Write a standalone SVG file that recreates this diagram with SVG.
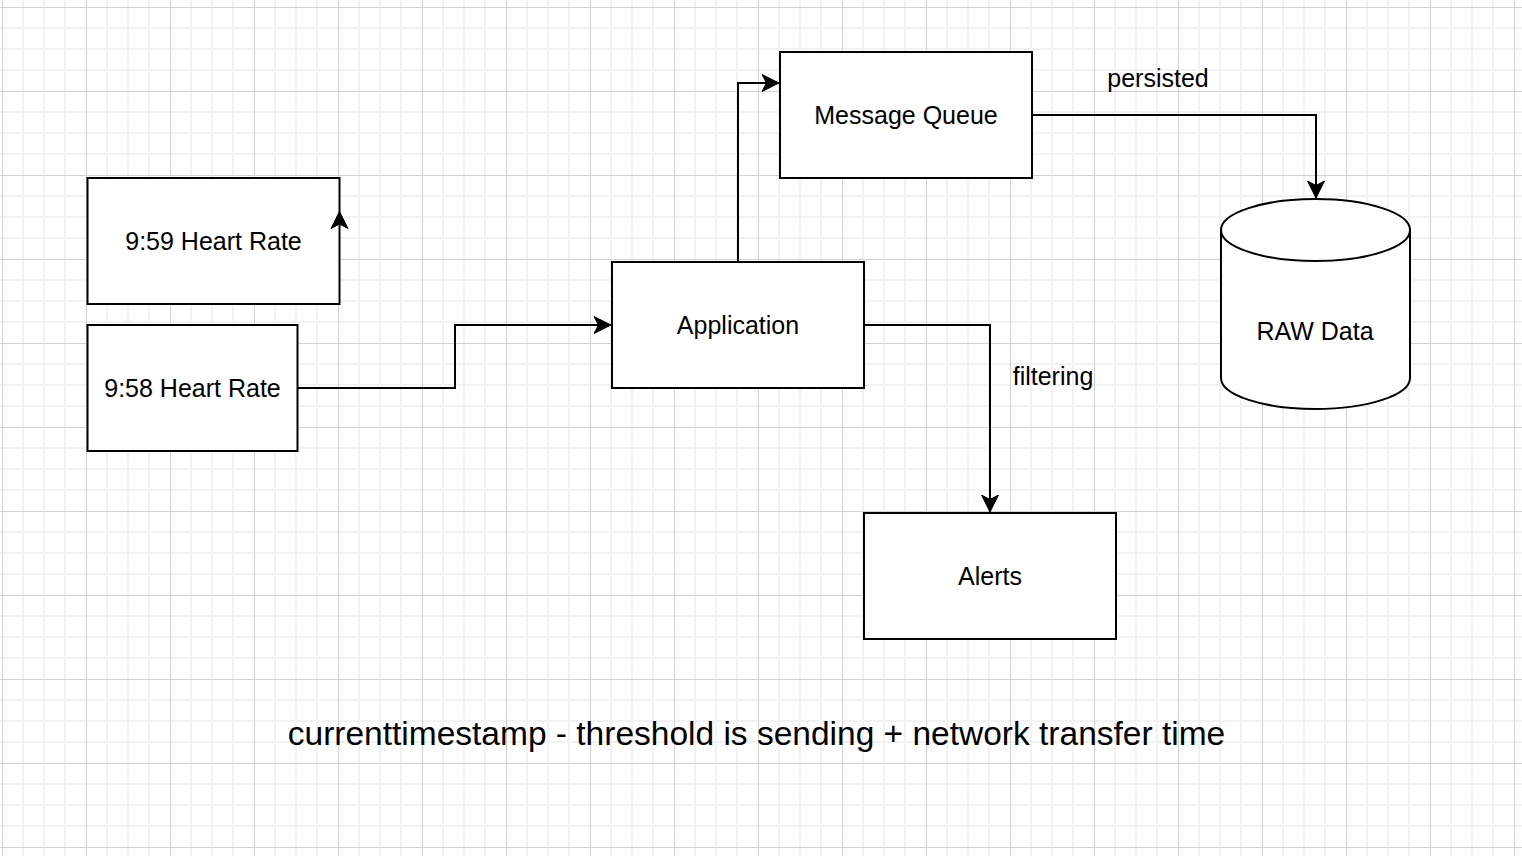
<svg xmlns="http://www.w3.org/2000/svg" width="1522" height="856" viewBox="0 0 1522 856">
  <style>
    .box { fill: #ffffff; stroke: #000000; stroke-width: 2; }
    .edge { fill: none; stroke: #000000; stroke-width: 2; }
    .lbl { font-family: "Liberation Sans", Arial, Helvetica, sans-serif; font-size: 25px; fill: #000000; text-anchor: middle; }
    .big { font-family: "Liberation Sans", Arial, Helvetica, sans-serif; font-size: 33.5px; fill: #000000; text-anchor: middle; }
  </style>
  <defs>
    <pattern id="grid" x="0" y="0" width="84" height="84" patternUnits="userSpaceOnUse">
      <path d="M23 0V84M44 0V84M65 0V84M0 28H84M0 49H84M0 70H84" stroke="#f2f2f2" stroke-width="2" fill="none"/>
      <path d="M2.5 0V84M0 7.5H84" stroke="#d2d2d2" stroke-width="1" fill="none"/>
    </pattern>
    <marker id="arrow" viewBox="0 0 18 18" refX="17" refY="9" markerWidth="18" markerHeight="18" markerUnits="userSpaceOnUse" orient="auto">
      <path d="M0 0.5L17 9L0 17.5L4.5 9Z" fill="#000000" stroke="#000000" stroke-width="1"/>
    </marker>
  </defs>

  <rect x="0" y="0" width="1522" height="856" fill="#ffffff"/>
  <rect x="0" y="0" width="1522" height="856" fill="url(#grid)"/>

  <g id="connectors">
    <path class="edge" d="M298 388H455V325H611" marker-end="url(#arrow)"/>
    <path class="edge" d="M738 262V83H779" marker-end="url(#arrow)"/>
    <path class="edge" d="M864 325H990V512" marker-end="url(#arrow)"/>
    <path class="edge" d="M1032 115H1316V198" marker-end="url(#arrow)"/>
  </g>

  <g id="node-959">
    <rect class="box" x="87.5" y="178" width="252" height="126"/>
    <text class="lbl" x="213.5" y="250">9:59 Heart Rate</text>
    <path d="M339.5 211.5L348 228.5L339.5 224L331 228.5Z" fill="#000000" stroke="#000000" stroke-width="1"/>
  </g>

  <g id="node-958">
    <rect class="box" x="87.5" y="325" width="210" height="126"/>
    <text class="lbl" x="192.5" y="397">9:58 Heart Rate</text>
  </g>

  <g id="node-application">
    <rect class="box" x="612" y="262" width="252" height="126"/>
    <text class="lbl" x="738" y="334">Application</text>
  </g>

  <g id="node-mq">
    <rect class="box" x="780" y="52" width="252" height="126"/>
    <text class="lbl" x="906" y="124">Message Queue</text>
  </g>

  <g id="node-alerts">
    <rect class="box" x="864" y="513" width="252" height="126"/>
    <text class="lbl" x="990" y="585">Alerts</text>
  </g>

  <g id="node-raw">
    <path class="box" d="M1221 230A94.5 31 0 0 1 1410 230V378A94.5 31 0 0 1 1221 378Z"/>
    <path class="edge" d="M1221 230A94.5 31 0 0 0 1410 230"/>
    <text class="lbl" x="1315" y="340">RAW Data</text>
  </g>

  <g id="labels">
    <text class="lbl" x="1158" y="87">persisted</text>
    <text class="lbl" x="1053" y="385">filtering</text>
    <text class="big" x="756.5" y="745">currenttimestamp - threshold is sending + network transfer time</text>
  </g>
</svg>
